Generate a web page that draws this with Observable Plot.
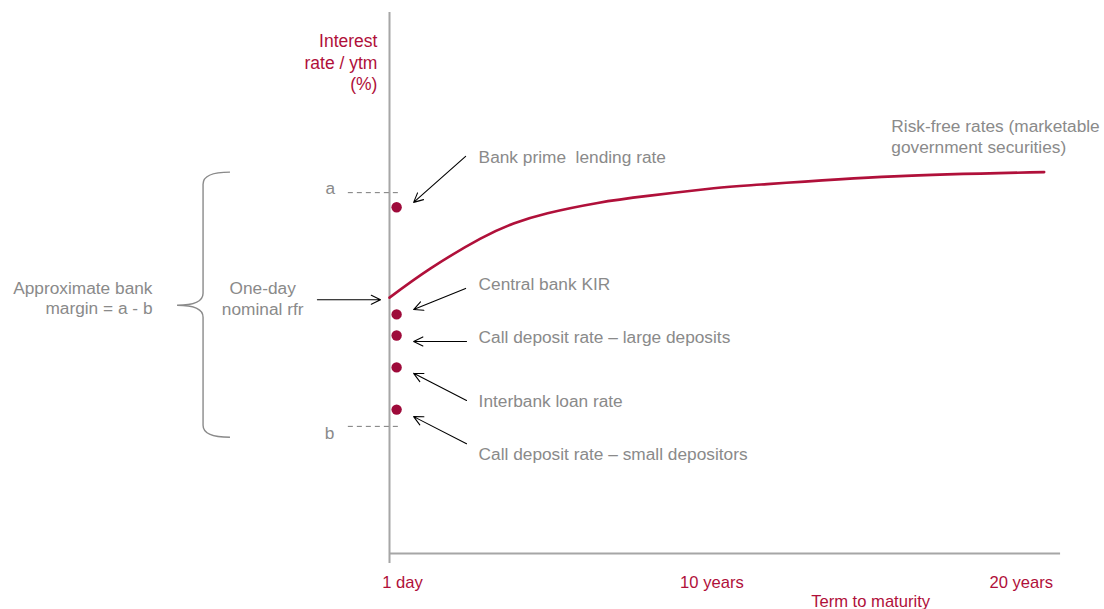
<!DOCTYPE html>
<html>
<head>
<meta charset="utf-8">
<script src="https://cdn.jsdelivr.net/npm/d3@7"></script>
<script src="https://cdn.jsdelivr.net/npm/@observablehq/plot@0.6"></script>
<style>
  html, body { margin: 0; padding: 0; background: #fff; }
  #chart svg { display: block; }
</style>
</head>
<body>
<div id="chart"></div>
<script>
// ---- Data (x in years to maturity, y in schematic rate units 0-100) ----
const curveX = [-0.42, 0.91, 2.52, 3.59, 4.69, 6.31, 7.93, 10.06, 11.59, 15.89, 20.74];
const curveY = [47.3, 52.7, 58.2, 61.0, 62.9, 64.8, 66.1, 67.5, 68.2, 69.7, 70.5];

const rateNames = ["Bank prime  lending rate", "Central bank KIR", "Call deposit rate \u2013 large deposits", "Interbank loan rate", "Call deposit rate \u2013 small depositors"];
const rateValues = [64.0, 44.2, 40.3, 34.4, 26.6];
const rateX = -0.19;

const labelY = [73.2, 49.7, 39.9, 28.1, 18.3];
const labelX = 2.46;
const arrowFromX = [2.04, 2.04, 2.07, 2.07, 2.07];
const arrowFromY = [73.4, 49.0, 39.2, 28.3, 20.3];
const arrowToX = [0.36, 0.36, 0.36, 0.36, 0.36];
const arrowToY = [64.9, 45.1, 39.2, 33.3, 25.3];

const tickValues = [0, 10, 20];
const tickLabels = ["1 day", "10 years", "20 years"];

const xDomain = [-0.42, 21.3];
const yDomain = [0, 100];

const aLevel = 66.7, bLevel = 23.5;      // dashed guide levels
const brace = {x: -6.43, tipX: -7.27, tailX: -5.56, top: 70.4, bottom: 21.4, mid: 45.8};

const crimson = "#b0103a";
const dotColor = "#9e0a3a";
const grey = "#8a8a8a";
const axisGrey = "#a6a6a6";
const font = "'Liberation Sans', Arial, sans-serif";
const fs = 17.3;

const curve = curveX.map((x, i) => ({x, y: curveY[i]}));
const rates = rateNames.map((name, i) => ({
  name, value: rateValues[i], lx: labelX, ly: labelY[i],
  x1: arrowFromX[i], y1: arrowFromY[i], x2: arrowToX[i], y2: arrowToY[i]
}));
const ticks = tickValues.map((v, i) => ({v, label: tickLabels[i]}));

function braceMark(index, scales) {
  const x = scales.x, y = scales.y;
  const bx = x(brace.x), tx = x(brace.tipX), ex = x(brace.tailX);
  const t = y(brace.top), b = y(brace.bottom), m = y(brace.mid);
  const r = 12;
  const p = d3.path();
  p.moveTo(ex, t);
  p.quadraticCurveTo(bx, t, bx, t + r);
  p.lineTo(bx, m - r);
  p.quadraticCurveTo(bx, m, tx, m);
  p.quadraticCurveTo(bx, m, bx, m + r);
  p.lineTo(bx, b - r);
  p.quadraticCurveTo(bx, b, ex, b);
  const el = document.createElementNS("http://www.w3.org/2000/svg", "path");
  el.setAttribute("d", p.toString());
  el.setAttribute("fill", "none");
  el.setAttribute("stroke", grey);
  el.setAttribute("stroke-width", "1.4");
  return el;
}

const chart = Plot.plot({
  width: 1104,
  height: 609,
  marginLeft: 389,
  marginRight: 43,
  marginTop: 12,
  marginBottom: 56,
  x: {domain: xDomain, axis: null},
  y: {domain: yDomain, axis: null},
  style: {fontFamily: font, fontSize: "16px", background: "#fff", overflow: "visible"},
  marks: [
    // axes
    Plot.ruleX([xDomain[0]], {y1: -1.85, y2: yDomain[1], stroke: axisGrey, strokeWidth: 2}),
    Plot.ruleY([0], {x1: xDomain[0], x2: 21.27, stroke: axisGrey, strokeWidth: 2}),
    Plot.text(ticks, {x: "v", y: -5.36, text: "label", fill: crimson, fontSize: 16.6, lineAnchor: "middle"}),
    Plot.text(["Term to maturity"], {x: 15.13, y: -8.9, text: d => d, fill: crimson, fontSize: 16.6, lineAnchor: "middle"}),
    Plot.text(["Interest\nrate / ytm\n(%)"], {x: -0.81, y: 90.9, text: d => d, fill: crimson, fontSize: 17.5, textAnchor: "end", lineAnchor: "middle", lineHeight: 1.24}),
    // dashed guides a and b
    Plot.ruleY([aLevel, bLevel], {x1: -1.75, x2: -0.1, stroke: "#7a7a7a", strokeWidth: 1, strokeDasharray: "5,4"}),
    Plot.text(["a"], {x: -2.33, y: 67.5, text: d => d, fill: grey, fontSize: fs}),
    Plot.text(["b"], {x: -2.36, y: 22.2, text: d => d, fill: grey, fontSize: fs}),
    // yield curve
    Plot.line(curve, {x: "x", y: "y", stroke: crimson, strokeWidth: 2.6, curve: "natural"}),
    // short rates
    Plot.dot(rates, {x: () => rateX, y: "value", r: 5.2, fill: dotColor, stroke: "none"}),
    Plot.arrow(rates, {x1: "x1", y1: "y1", x2: "x2", y2: "y2", stroke: "#000", strokeWidth: 1.1, headLength: 14, headAngle: 52}),
    Plot.text(rates, {x: "lx", y: "ly", text: "name", fill: grey, fontSize: fs, textAnchor: "start"}),
    Plot.text(["Risk-free rates (marketable\ngovernment securities)"], {x: 15.8, y: 77.2, text: d => d, fill: grey, fontSize: fs, textAnchor: "start", lineAnchor: "middle", lineHeight: 1.2}),
    // one-day rfr
    Plot.arrow([{x1: -2.75, y1: 46.9, x2: -0.71, y2: 46.9}], {x1: "x1", y1: "y1", x2: "x2", y2: "y2", stroke: "#000", strokeWidth: 1.1, headLength: 14, headAngle: 52}),
    Plot.text(["One-day\nnominal rfr"], {x: -4.52, y: 47.2, text: d => d, fill: grey, fontSize: fs, textAnchor: "middle", lineAnchor: "middle", lineHeight: 1.2}),
    // bank margin brace
    braceMark,
    Plot.text(["Approximate bank\nmargin = a - b"], {x: -8.08, y: 47.3, text: d => d, fill: grey, fontSize: fs, textAnchor: "end", lineAnchor: "middle", lineHeight: 1.16})
  ]
});
document.getElementById("chart").appendChild(chart);
</script>
</body>
</html>
